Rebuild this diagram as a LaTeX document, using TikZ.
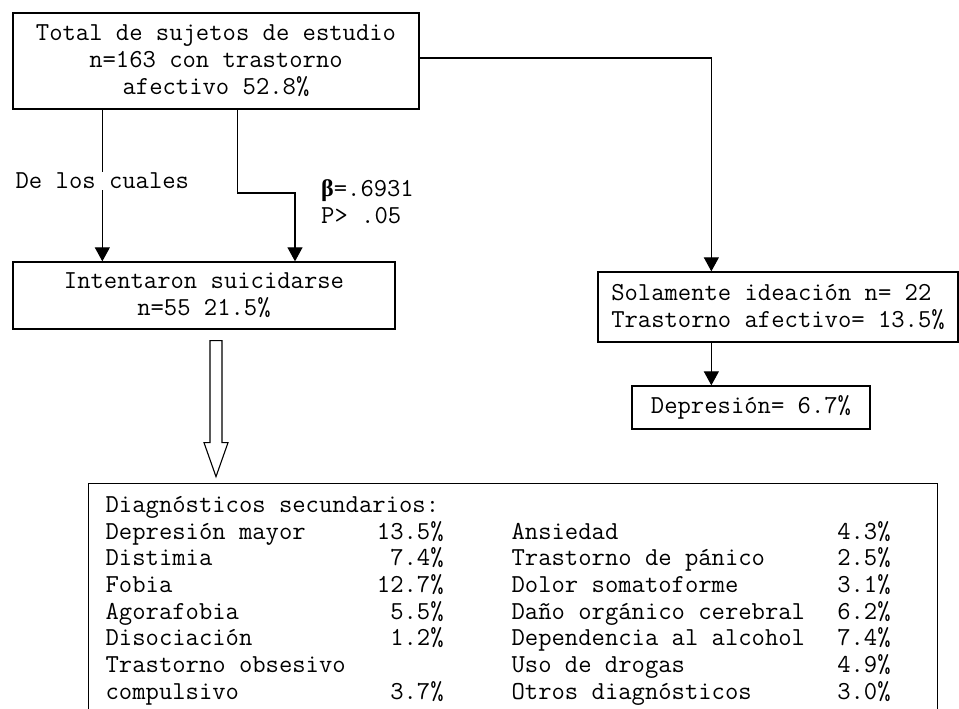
\documentclass[tikz,border=0pt]{standalone}
\usepackage{fontspec}
\newfontfamily\griega{Liberation Serif}
\usetikzlibrary{arrows.meta,positioning}

\newcommand\fila[4]{\makebox[338pt]{#1\hfill#2}\hspace{68pt}\makebox[379pt]{#3\hfill#4}}

\begin{document}
\begin{tikzpicture}[x=1pt,y=-1pt,
    caja/.style={draw, line width=1.3pt, inner sep=0pt, align=center,
      font=\ttfamily\fontsize{25.9}{27}\selectfont},
    flecha/.style={line width=1.1pt, -{Triangle[width=15pt,length=14pt]}},
    etiq/.style={font=\ttfamily\fontsize{25.9}{27}\selectfont, inner sep=1pt}]

    \path[use as bounding box, clip] (0,0) rectangle (959,709);

    \node[caja, minimum width=406pt, minimum height=96pt] (total) at (216,61)
      {Total de sujetos de estudio\\n=163 con trastorno\\afectivo 52.8\%};
    \node[caja, minimum width=382pt, minimum height=67pt] (inten) at (204,295.5)
      {Intentaron suicidarse\\n=55 21.5\%};
    \node[caja, align=left, minimum width=360pt, minimum height=70pt] (sola) at (778,307)
      {Solamente ideación n= 22\\Trastorno afectivo= 13.5\%};
    \node[caja, minimum width=238pt, minimum height=43pt] (dep) at (751,407.5)
      {Depresión= 6.7\%};

    \node[etiq, anchor=west, align=left] (beta) at (320,202)
      {{\griega\bfseries\fontsize{24}{27}\selectfont β}=.6931\\P> .05};

    \node[draw, line width=1.3pt, anchor=north west, inner xsep=0pt, inner ysep=10pt,
      font=\ttfamily\fontsize{25.9}{26.7}\selectfont] (diag) at (88,483)
      {\begin{tabular}{@{\hspace{17pt}}l@{\hspace{47pt}}}
        Diagnósticos secundarios:\\
        \fila{Depresión mayor}{13.5\%}{Ansiedad}{4.3\%}\\
        \fila{Distimia}{7.4\%}{Trastorno de pánico}{2.5\%}\\
        \fila{Fobia}{12.7\%}{Dolor somatoforme}{3.1\%}\\
        \fila{Agorafobia}{5.5\%}{Daño orgánico cerebral}{6.2\%}\\
        \fila{Disociación}{1.2\%}{Dependencia al alcohol}{7.4\%}\\
        \fila{Trastorno obsesivo}{}{Uso de drogas}{4.9\%}\\
        \fila{compulsivo}{3.7\%}{Otros diagnósticos}{3.0\%}
      \end{tabular}};

    % conectores
    \draw[flecha] ([xshift=90pt]total.south west) --
      node[etiq, fill=white, pos=0.47] {De los cuales} ([xshift=90pt]inten.north west);
    \coordinate (codo) at (295,193);
    \draw[flecha] ([xshift=225pt]total.south west) |- (codo) -- (codo |- inten.north);
    \draw[flecha] ([yshift=3pt]total.east) -| ([xshift=114pt]sola.north west);
    \draw[flecha] ([xshift=114pt]sola.south west) -- ([xshift=80pt]dep.north west);

    % flecha hueca
    \coordinate (fl) at ([xshift=12pt,yshift=-11pt]inten.south);
    \draw[line width=1.1pt] (fl) ++(-6,0) -- ++(0,102) -- ++(-6,0) -- ++(12,34)
      -- ++(12,-34) -- ++(-6,0) -- ++(0,-102) -- cycle;

\end{tikzpicture}
\end{document}
